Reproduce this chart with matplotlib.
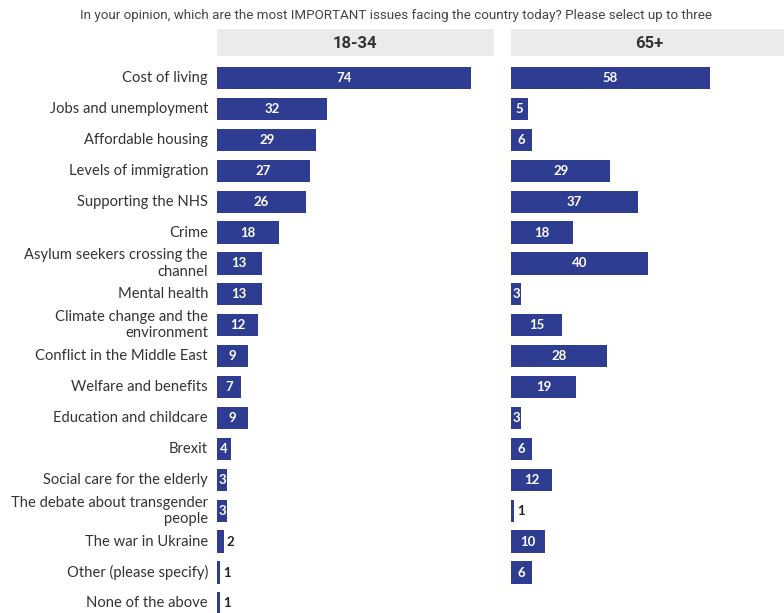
import matplotlib.pyplot as plt
from matplotlib.patches import Rectangle

categories = ["Cost of living", "Jobs and unemployment", "Affordable housing",
              "Levels of immigration", "Supporting the NHS", "Crime",
              "Asylum seekers crossing the\nchannel", "Mental health",
              "Climate change and the\nenvironment", "Conflict in the Middle East",
              "Welfare and benefits", "Education and childcare", "Brexit",
              "Social care for the elderly", "The debate about transgender\npeople",
              "The war in Ukraine", "Other (please specify)", "None of the above"]
young = [74, 32, 29, 27, 26, 18, 13, 13, 12, 9, 7, 9, 4, 3, 3, 2, 1, 1]
old = [58, 5, 6, 29, 37, 18, 40, 3, 15, 28, 19, 3, 6, 12, 1, 10, 6, 0]
panel_titles = ["18-34", "65+"]
title = "In your opinion, which are the most IMPORTANT issues facing the country today? Please select up to three"

W, H = 784, 613
bar_col = "#2e3d92"
fig = plt.figure(figsize=(W / 100, H / 100), dpi=100)

fig.text(396 / W, 1 - 16 / H, title, ha="center", va="center",
         fontsize=9.6, color="#444444", family="Roboto")

ylo, yhi = 17.31, -0.583
xmax = 277 / 3.43
lefts = [217, 511]
ys = list(range(len(categories)))

for k, vals in enumerate([young, old]):
    ax = fig.add_axes([lefts[k] / W, 0, 277 / W, 553 / H])
    ax.barh(ys, vals, height=0.72, color=bar_col)
    ax.set_xlim(0, xmax)
    ax.set_ylim(ylo, yhi)
    ax.axis("off")
    for y, v in zip(ys, vals):
        if v == 0:
            continue
        if v >= 3:
            ax.text(v / 2, y, str(v), ha="center", va="center", color="white",
                    fontsize=9.5, fontweight="bold", family="Lato")
        else:
            ax.text(v + 0.8, y, str(v), ha="left", va="center", color="#222222",
                    fontsize=9.5, fontweight="bold", family="Lato")
    if k == 0:
        for y, c in zip(ys, categories):
            ax.text(-2.6, y, c, ha="right", va="center", color="#333333",
                    fontsize=10.6, family="Lato", linespacing=1.2)
    # grey header box
    fig.patches.append(Rectangle((lefts[k] / W, 1 - 56 / H), 277 / W, 27 / H,
                                 transform=fig.transFigure, facecolor="#ebebeb",
                                 edgecolor="none", zorder=0))
    fig.text((lefts[k] + 138) / W, 1 - 43 / H, panel_titles[k], ha="center",
             va="center", fontsize=12, fontweight="bold", color="#333333",
             family="Roboto")

fig.savefig("out.png", dpi=100)
